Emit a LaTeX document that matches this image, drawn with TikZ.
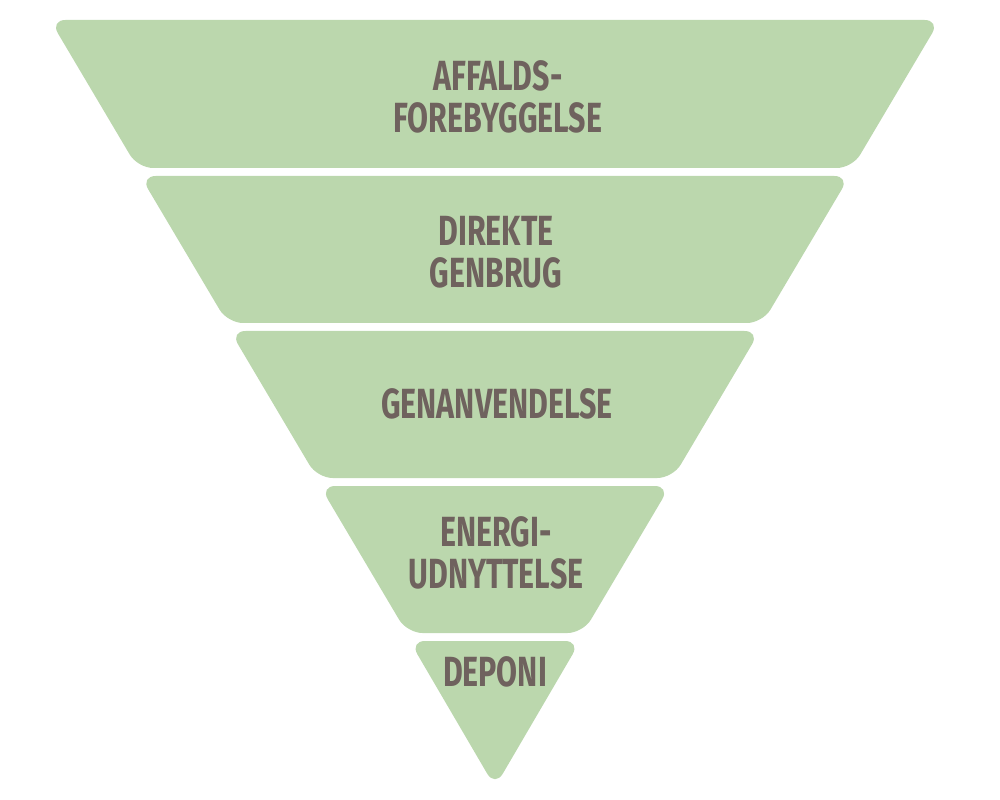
\documentclass[tikz,border=0pt]{standalone}
\usepackage{fontspec}
\setmainfont{Fira Sans}[FakeStretch=0.72]
\usepackage{tikz}
\definecolor{bandgreen}{HTML}{BBD7AD}
\definecolor{labelgrey}{HTML}{6F625E}

\begin{document}
\begin{tikzpicture}[x=0.025cm,y=-0.025cm,
  band/.style={fill=bandgreen,rounded corners=11pt},
  label/.style={text=labelgrey,align=center,
    font=\bfseries\fontsize{30}{30}\selectfont}]
\useasboundingbox (0,0) rectangle (1000,800);
\fill[band] (50,20)--(940,20)--(852.3,168)--(137.7,168)--cycle;
\fill[band] (140.3,176)--(849.7,176)--(762.5,323)--(227.5,323)--cycle;
\fill[band] (230.1,331)--(759.9,331)--(672.8,478)--(317.2,478)--cycle;
\fill[band] (319.9,486)--(670.1,486)--(583,633)--(407,633)--cycle;
\fill[band] (409.6,641)--(580.4,641)--(495,787)--cycle;
\node[label] (affald) at (498,97) {AFFALDS-\\FOREBYGGELSE};
\node[label] (genbrug) at (496,252) {DIREKTE\\GENBRUG};
\node[label] (genanv) at (497,404) {GENANVENDELSE};
\node[label] (energi) at (496,553) {ENERGI-\\UDNYTTELSE};
\node[label] (deponi) at (495,672) {DEPONI};
\end{tikzpicture}
\end{document}
